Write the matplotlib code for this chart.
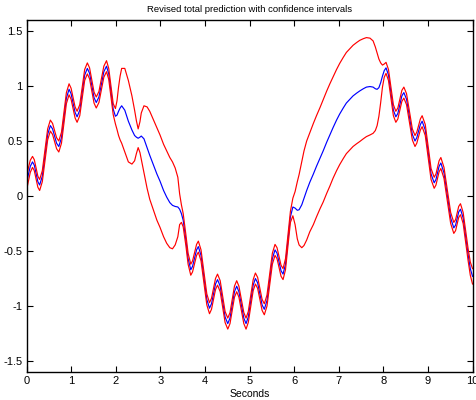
import numpy as np
import matplotlib
matplotlib.use("Agg")
import matplotlib.pyplot as plt

plt.rcParams['font.family'] = ['Liberation Sans', 'DejaVu Sans']
plt.rcParams['axes.unicode_minus'] = False

# values, region by region (time, mean, half-width of interval)
# 0 - 2 s: data region, narrow interval
t_a = [0.00, 0.04, 0.08, 0.13, 0.17, 0.21, 0.25, 0.29, 0.35, 0.41,
       0.47, 0.53, 0.58, 0.625, 0.67, 0.72, 0.78, 0.835, 0.89, 0.95,
       0.995, 1.04, 1.085, 1.13, 1.19, 1.245, 1.30, 1.36, 1.41, 1.46,
       1.51, 1.56, 1.62, 1.675, 1.73, 1.79, 1.84, 1.89, 1.94]
mean_a = [0.12, 0.20, 0.27, 0.31, 0.28, 0.205, 0.13, 0.10, 0.18, 0.37,
          0.56, 0.64, 0.61, 0.545, 0.48, 0.45, 0.53, 0.71, 0.89, 0.97,
          0.93, 0.845, 0.76, 0.72, 0.78, 0.94, 1.10, 1.16, 1.115, 1.005,
          0.895, 0.85, 0.90, 1.015, 1.13, 1.18, 1.11, 0.95, 0.79]
band_a = [0.06, 0.06, 0.055, 0.05, 0.05, 0.05, 0.05, 0.05, 0.05, 0.05,
          0.05, 0.05, 0.05, 0.05, 0.05, 0.05, 0.05, 0.05, 0.05, 0.05,
          0.05, 0.05, 0.05, 0.05, 0.05, 0.05, 0.05, 0.05, 0.05, 0.05,
          0.05, 0.05, 0.05, 0.05, 0.05, 0.05, 0.05, 0.05, 0.05]

# 2 - 3.7 s: gap, wide interval
t_b = [1.99, 2.025, 2.06, 2.095, 2.13, 2.20, 2.28, 2.36, 2.42, 2.46,
       2.50, 2.54, 2.57, 2.63, 2.70, 2.76, 2.84, 2.92, 2.99, 3.07,
       3.14, 3.21, 3.27, 3.33, 3.39, 3.43, 3.47, 3.51, 3.57, 3.62,
       3.68]
mean_b = [0.725, 0.735, 0.77, 0.80, 0.82, 0.78, 0.68, 0.60, 0.55, 0.535,
          0.525, 0.535, 0.545, 0.52, 0.44, 0.37, 0.285, 0.20, 0.135, 0.05,
          -0.01, -0.06, -0.085, -0.095, -0.10, -0.12, -0.16, -0.22, -0.40, -0.57,
          -0.67]
band_b = [0.07, 0.13, 0.22, 0.29, 0.34, 0.38, 0.37, 0.31, 0.23, 0.15,
          0.085, 0.14, 0.21, 0.30, 0.37, 0.40, 0.41, 0.42, 0.42, 0.42,
          0.42, 0.41, 0.395, 0.35, 0.27, 0.14, 0.08, 0.06, 0.05, 0.05,
          0.05]

# 3.7 - 5.9 s: data region
t_c = [3.72, 3.765, 3.81, 3.85, 3.91, 3.975, 4.04, 4.10, 4.145, 4.19,
       4.235, 4.28, 4.34, 4.395, 4.45, 4.51, 4.56, 4.61, 4.66, 4.71,
       4.76, 4.815, 4.87, 4.92, 4.97, 5.025, 5.08, 5.13, 5.18, 5.23,
       5.28, 5.33, 5.39, 5.45, 5.51, 5.57, 5.615, 5.66, 5.705, 5.75,
       5.805, 5.86, 5.915]
mean_c = [-0.64, -0.565, -0.49, -0.46, -0.54, -0.74, -0.94, -1.02, -0.98, -0.89,
          -0.80, -0.76, -0.82, -0.96, -1.10, -1.16, -1.11, -0.99, -0.87, -0.82,
          -0.87, -0.99, -1.11, -1.16, -1.10, -0.955, -0.81, -0.75, -0.79, -0.89,
          -0.99, -1.03, -0.95, -0.76, -0.57, -0.49, -0.52, -0.60, -0.68, -0.71,
          -0.62, -0.40, -0.19]
band_c = [0.05, 0.05, 0.05, 0.05, 0.05, 0.05, 0.05, 0.05, 0.05, 0.05,
          0.05, 0.05, 0.05, 0.05, 0.05, 0.05, 0.05, 0.05, 0.05, 0.05,
          0.05, 0.05, 0.05, 0.05, 0.05, 0.05, 0.05, 0.05, 0.05, 0.05,
          0.05, 0.05, 0.05, 0.05, 0.05, 0.05, 0.05, 0.05, 0.05, 0.05,
          0.05, 0.05, 0.05]

# 6 - 8 s: gap
t_d = [5.97, 6.02, 6.07, 6.11, 6.17, 6.22, 6.28, 6.35, 6.43, 6.50,
       6.58, 6.65, 6.73, 6.80, 6.87, 6.95, 7.02, 7.10, 7.17, 7.25,
       7.32, 7.40, 7.47, 7.55, 7.62, 7.70, 7.77, 7.82, 7.86, 7.90,
       7.94, 7.98, 8.02]
mean_d = [-0.10, -0.11, -0.13, -0.125, -0.08, -0.02, 0.05, 0.125, 0.20, 0.27,
          0.345, 0.41, 0.49, 0.555, 0.62, 0.69, 0.745, 0.80, 0.845, 0.88,
          0.91, 0.935, 0.955, 0.975, 0.99, 0.995, 0.99, 0.975, 0.97, 0.985,
          1.03, 1.09, 1.14]
band_d = [0.08, 0.15, 0.26, 0.32, 0.39, 0.43, 0.45, 0.45, 0.46, 0.46,
          0.46, 0.465, 0.465, 0.465, 0.46, 0.46, 0.46, 0.46, 0.46, 0.46,
          0.46, 0.46, 0.46, 0.455, 0.45, 0.44, 0.42, 0.38, 0.33, 0.26,
          0.18, 0.10, 0.06]

# 8 - 10 s: data region
t_e = [8.06, 8.115, 8.17, 8.225, 8.28, 8.325, 8.37, 8.415, 8.46, 8.52,
       8.585, 8.65, 8.71, 8.75, 8.79, 8.83, 8.87, 8.94, 9.005, 9.07,
       9.14, 9.18, 9.215, 9.25, 9.29, 9.36, 9.435, 9.51, 9.58, 9.62,
       9.655, 9.69, 9.73, 9.79, 9.85, 9.90, 9.95, 10.0]
mean_e = [1.165, 1.10, 0.94, 0.78, 0.72, 0.75, 0.83, 0.91, 0.94, 0.88,
          0.72, 0.56, 0.50, 0.53, 0.59, 0.65, 0.68, 0.60, 0.40, 0.20,
          0.12, 0.15, 0.21, 0.27, 0.30, 0.21, 0.005, -0.20, -0.29, -0.265,
          -0.205, -0.145, -0.12, -0.20, -0.38, -0.53, -0.66, -0.73]
band_e = [0.05, 0.05, 0.05, 0.05, 0.05, 0.05, 0.05, 0.05, 0.05, 0.05,
          0.05, 0.05, 0.05, 0.05, 0.05, 0.05, 0.05, 0.05, 0.05, 0.05,
          0.05, 0.05, 0.05, 0.05, 0.05, 0.05, 0.05, 0.05, 0.05, 0.05,
          0.05, 0.05, 0.05, 0.05, 0.05, 0.055, 0.06, 0.07]

x_ticks = [0, 1, 2, 3, 4, 5, 6, 7, 8, 9, 10]
y_ticks = [-1.5, -1, -0.5, 0, 0.5, 1, 1.5]
y_tick_labels = ["-1.5", "-1", "-0.5", "0", "0.5", "1", "1.5"]

t = np.array(t_a + t_b + t_c + t_d + t_e)
mean = np.array(mean_a + mean_b + mean_c + mean_d + mean_e)
band = np.array(band_a + band_b + band_c + band_d + band_e)

fig = plt.figure(figsize=(4.77, 4.0), dpi=100)
ax = fig.add_axes([0.056, 0.07, 0.9346, 0.88])

ax.plot(t, mean, color=(0, 0, 1), lw=0.85)
ax.plot(t, mean + band, color=(1, 0, 0), lw=0.85)
ax.plot(t, mean - band, color=(1, 0, 0), lw=0.85)

ax.set_xlim(0, 10)
ax.set_ylim(-1.6, 1.6)
ax.set_xticks(x_ticks)
ax.set_yticks(y_ticks)
ax.set_yticklabels(y_tick_labels)
ax.tick_params(direction='in', top=True, right=True, length=4, width=0.8,
               labelsize=8, pad=3)
for s in ax.spines.values():
    s.set_linewidth(1.0)

ax.set_title("Revised total prediction with confidence intervals", fontsize=6.8)
ax.set_xlabel("Seconds", fontsize=7.5, labelpad=2)

fig.savefig("out.png", dpi=100)
